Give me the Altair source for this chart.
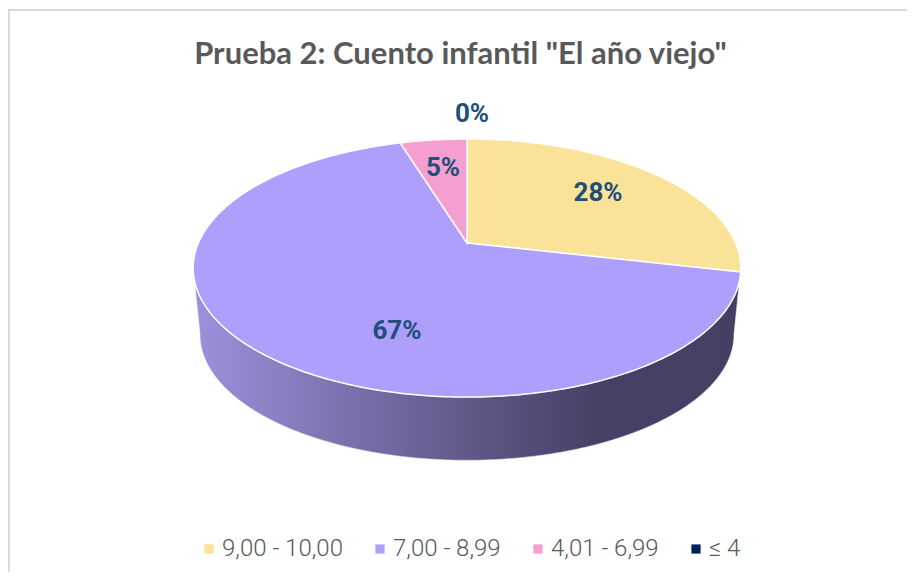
import math
import altair as alt

# ---- data ----
TITLE = 'Prueba 2: Cuento infantil "El año viejo"'
labels = ["9,00 - 10,00", "7,00 - 8,99", "4,01 - 6,99", "≤ 4"]
counts = [6, 14, 1, 0]
pct_text = ["28%", "67%", "5%", "0%"]
colors = ["#FBE299", "#AD9FFB", "#F49FD0", "#002060"]

# ---- pie geometry (perspective projection of a disc) ----
W, H = 899, 564
APEX = [459, 235]
RX, RY, K = 268.6, 124.2, 0.194
DROP, SHRINK = 67, 0.975
LABEL_R = 0.7
nudges = [(-4.5, 0), (72, -17), (0.7, -1), (5, 52.5)]


def proj(theta, r=1.0):
    t = math.radians(theta)
    s, c = math.sin(t) * r, math.cos(t) * r
    w = 1 + K * c
    return [RX * s / w, RY * c / w]


def arc(a, b):
    n = max(2, int(abs(b - a)) + 1)
    return [proj(a + (b - a) * i / (n - 1)) for i in range(n)]


total = sum(counts)
features, label_rows = [], []
start = 0.0
for lab, n, txt, nudge in zip(labels, counts, pct_text, nudges):
    sweep = 360 * n / total
    if n:
        ring = [[0.0, 0.0]] + arc(start, start + sweep) + [[0.0, 0.0]]
        features.append({"type": "Feature", "properties": {"label": lab},
                         "geometry": {"type": "Polygon", "coordinates": [ring]}})
    mx, my = proj(start + sweep / 2, LABEL_R)
    label_rows.append({"t": txt, "lon": mx + nudge[0], "lat": my + nudge[1]})
    start += sweep

# side wall: front half of the top rim, then the lower rim back again
LEFT_T, RIGHT_T = 259, 101
top_front = arc(LEFT_T, RIGHT_T)
low_front = [[p[0] * SHRINK, p[1] * SHRINK - DROP] for p in top_front]
side_ring = top_front + low_front[::-1] + [top_front[0]]
side = {"type": "Feature", "properties": {},
        "geometry": {"type": "Polygon", "coordinates": [side_ring]}}

projection = alt.Projection(type="identity", reflectY=True, scale=1, translate=APEX)

side_layer = alt.Chart(alt.Data(values=[side])).mark_geoshape(
    stroke="#e8e6f5", strokeWidth=0.5,
    fill=alt.Gradient(gradient="linear", x1=0, x2=1, y1=0, y2=0, stops=[
        alt.GradientStop(offset=0, color="#9C91DC"),
        alt.GradientStop(offset=0.5, color="#625888"),
        alt.GradientStop(offset=0.74, color="#464066"),
        alt.GradientStop(offset=1, color="#443F63"),
    ]),
).project(**projection.to_dict())

pie_layer = alt.Chart(alt.Data(values=features)).mark_geoshape(
    stroke="#ffffff", strokeWidth=1.5,
).encode(
    color=alt.Color("properties.label:N",
                    scale=alt.Scale(domain=labels, range=colors),
                    legend=alt.Legend(title=None, orient="none", legendX=189, legendY=529,
                                      direction="horizontal", columns=4, symbolType="square",
                                      symbolSize=85, symbolStrokeWidth=0, symbolOpacity=1,
                                      labelFont="Roboto", labelFontWeight=300, labelFontSize=24,
                                      labelColor="#595959", labelOffset=1,
                                      columnPadding=25, gridAlign="none", labelLimit=300)),
).project(**projection.to_dict())

text_layer = alt.Chart(alt.Data(values=label_rows)).mark_text(
    font="Roboto", fontWeight="bold", fontSize=26, color="#1F4E79",
).encode(
    longitude="lon:Q", latitude="lat:Q", text="t:N",
).project(**projection.to_dict())

frame_top = alt.Chart(alt.Data(values=[{}])).mark_rule(color="#D9D9D9", strokeWidth=2).encode(
    x=alt.value(0), x2=alt.value(W), y=alt.value(2))
frame_left = alt.Chart(alt.Data(values=[{}])).mark_rule(color="#D9D9D9", strokeWidth=2).encode(
    x=alt.value(1), y=alt.value(2), y2=alt.value(H))

chart = alt.layer(frame_top, frame_left, side_layer, pie_layer, text_layer).properties(
    width=W, height=H, padding=0,
    autosize=alt.AutoSizeParams(type="none"),
    title=alt.TitleParams(TITLE, font="Lato", fontWeight="bold", fontSize=31, color="#595959",
                          anchor="middle", frame="group", dx=3, dy=67),
).configure_view(stroke=None)

chart.save("out.html", embed_options={"renderer": "svg", "actions": False})
